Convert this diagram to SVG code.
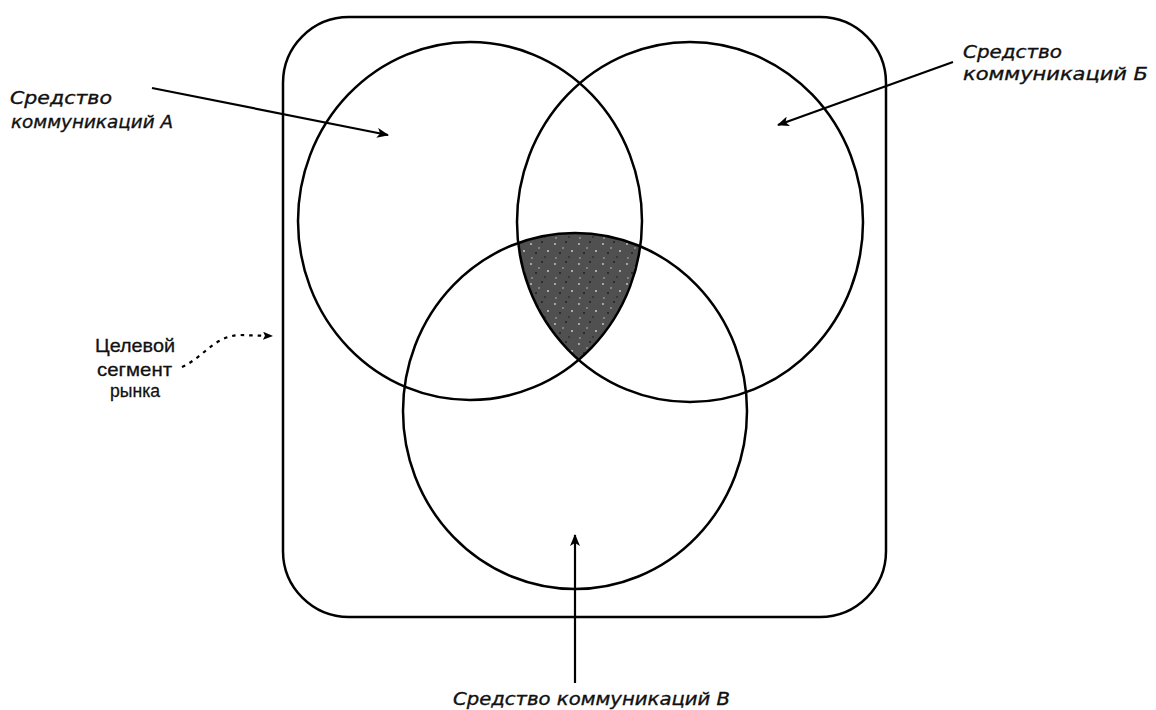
<svg xmlns="http://www.w3.org/2000/svg" width="1156" height="710" viewBox="0 0 1156 710">
  <style>
    .line { fill: none; stroke: #000; stroke-width: 2.5; }
    .lbl { font-family: "DejaVu Sans", "Liberation Sans", sans-serif; font-style: italic; font-size: 17px; fill: #111; stroke: #111; stroke-width: 0.35; }
    .lblu { font-family: "Liberation Sans", "DejaVu Sans", sans-serif; font-size: 19px; fill: #111; stroke: #111; stroke-width: 0.3; }
    .arrow { fill: none; stroke: #000; stroke-width: 2.2; }
  </style>
  <defs>
    <marker id="ah" viewBox="0 0 12 10" refX="11" refY="5" markerWidth="12" markerHeight="10" markerUnits="userSpaceOnUse" orient="auto">
      <path d="M0,0 L12,5 L0,10 L3,5 Z" fill="#000"/>
    </marker>
    <marker id="ahs" viewBox="0 0 10 8" refX="9" refY="4" markerWidth="10" markerHeight="8" markerUnits="userSpaceOnUse" orient="auto">
      <path d="M0,0 L10,4 L0,8 L2,4 Z" fill="#000"/>
    </marker>
    <pattern id="speck" width="24" height="20" patternUnits="userSpaceOnUse">
      <rect width="24" height="20" fill="#505050"/>
      <circle cx="3" cy="4" r="0.9" fill="#cfcfcf"/>
      <circle cx="14" cy="2" r="0.9" fill="#1a1a1a"/>
      <circle cx="20" cy="11" r="0.9" fill="#d8d8d8"/>
      <circle cx="8" cy="13" r="0.9" fill="#1a1a1a"/>
      <circle cx="17" cy="17" r="0.8" fill="#1a1a1a"/>
      <circle cx="4" cy="18" r="0.8" fill="#bdbdbd"/>
      <circle cx="11" cy="8" r="0.8" fill="#bdbdbd"/>
    </pattern>
    <clipPath id="clipA"><ellipse cx="470" cy="221" rx="172" ry="179"/></clipPath>
    <clipPath id="clipB"><ellipse cx="690" cy="222" rx="173" ry="180"/></clipPath>
  </defs>
  <rect width="1156" height="710" fill="#fff"/>

  <g id="segment">
    <rect class="line" x="283" y="17" width="603" height="600" rx="66" ry="66" stroke-width="2.6"/>
  </g>

  <g id="overlap">
    <g clip-path="url(#clipA)">
      <g clip-path="url(#clipB)">
        <ellipse cx="575" cy="411" rx="172" ry="178" fill="url(#speck)"/>
      </g>
    </g>
  </g>

  <g id="circleA"><ellipse class="line" cx="470" cy="221" rx="172" ry="179"/></g>
  <g id="circleB"><ellipse class="line" cx="690" cy="222" rx="173" ry="180"/></g>
  <g id="circleC"><ellipse class="line" cx="575" cy="411" rx="172" ry="178"/></g>

  <g id="connectors">
    <path class="arrow" d="M152,88 L388,135" marker-end="url(#ah)"/>
    <path class="arrow" d="M953,62 L778,125" marker-end="url(#ah)"/>
    <path class="arrow" d="M575,683 L575,535" marker-end="url(#ah)"/>
    <path class="arrow" d="M182,367 C204,357 214,336 240,335 L272,336" stroke-dasharray="3.5 5" marker-end="url(#ahs)"/>
  </g>

  <g id="labelA">
    <text class="lbl" x="10" y="104" textLength="102" lengthAdjust="spacingAndGlyphs">Средство</text>
    <text class="lbl" x="11" y="128" textLength="162" lengthAdjust="spacingAndGlyphs">коммуникаций А</text>
  </g>
  <g id="labelB">
    <text class="lbl" x="963" y="58" font-size="19" textLength="99" lengthAdjust="spacingAndGlyphs">Средство</text>
    <text class="lbl" x="963" y="80" font-size="19" textLength="185" lengthAdjust="spacingAndGlyphs">коммуникаций Б</text>
  </g>
  <g id="labelC">
    <text class="lbl" x="453" y="705" textLength="277" lengthAdjust="spacingAndGlyphs">Средство коммуникаций В</text>
  </g>
  <g id="labelTarget">
    <text class="lblu" x="95" y="352" textLength="80" lengthAdjust="spacingAndGlyphs">Целевой</text>
    <text class="lblu" x="97" y="376" textLength="75" lengthAdjust="spacingAndGlyphs">сегмент</text>
    <text class="lblu" x="110" y="397" textLength="50" lengthAdjust="spacingAndGlyphs">рынка</text>
  </g>
</svg>
